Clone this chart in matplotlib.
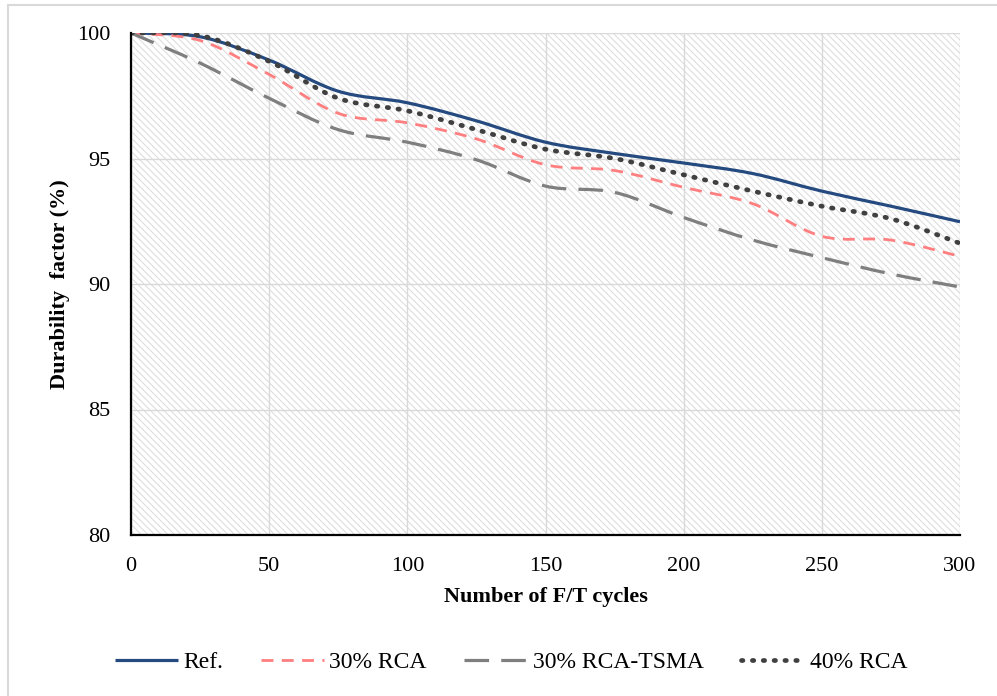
import matplotlib
matplotlib.use("Agg")
import matplotlib.pyplot as plt
from matplotlib.path import Path
from matplotlib.patches import PathPatch, Rectangle
from matplotlib.lines import Line2D
import numpy as np

cycles = [0, 25, 50, 75, 100, 125, 150, 175, 200, 225, 250, 275, 300]
ref = [100, 99.85, 98.92, 97.68, 97.22, 96.5, 95.65, 95.2, 94.82, 94.4, 93.7, 93.1, 92.48]
rca30 = [100, 99.7, 98.35, 96.8, 96.42, 95.78, 94.75, 94.52, 93.85, 93.2, 91.9, 91.75, 91.1]
tsma30 = [100, 98.8, 97.4, 96.15, 95.65, 94.95, 93.9, 93.65, 92.65, 91.75, 91.05, 90.4, 89.88]
rca40 = [100, 99.9, 98.87, 97.4, 96.9, 96.15, 95.37, 95.0, 94.35, 93.7, 93.1, 92.6, 91.62]
labels = ["Ref.", "30% RCA", "30% RCA-TSMA", "40% RCA"]

plt.rcParams['font.family'] = ['Liberation Serif', 'DejaVu Serif']
plt.rcParams['hatch.linewidth'] = 0.7

fig = plt.figure(figsize=(9.97, 6.96), dpi=100)
fig.patches.append(Rectangle((8/997, -0.1), 1.2, 1.1 - 5/696, transform=fig.transFigure,
                             fill=False, edgecolor='#d9d9d9', lw=1.5))
ax = fig.add_axes([131/997, 1-535/696, (960-131)/997, (535-33)/696])
ax.patch.set_facecolor('white')
ax.patch.set_hatch('\\\\\\\\\\')
ax.patch.set_edgecolor('#dadada')

def smooth_path(x, y):
    x = np.asarray(x, float); y = np.asarray(y, float)
    n = len(x)
    verts = [(x[0], y[0])]
    codes = [Path.MOVETO]
    for i in range(n-1):
        x0, y0 = (x[i-1], y[i-1]) if i > 0 else (x[i], y[i])
        x3, y3 = (x[i+2], y[i+2]) if i+2 < n else (x[i+1], y[i+1])
        c1 = (x[i] + (x[i+1]-x0)/6, y[i] + (y[i+1]-y0)/6)
        c2 = (x[i+1] - (x3-x[i])/6, y[i+1] - (y3-y[i])/6)
        verts += [c1, c2, (x[i+1], y[i+1])]
        codes += [Path.CURVE4]*3
    return Path(verts, codes)

styles = [
    dict(color='#254A80', lw=2.3, ls='-', cap='butt'),
    dict(color='#FF7F80', lw=2.0, ls=(0, (4.3, 3.0)), cap='butt'),
    dict(color='#7F7F7F', lw=2.3, ls=(0, (7.7, 3.8)), cap='butt'),
    dict(color='#404040', lw=3.4, ls=(0, (0.3, 2.0)), cap='round'),
]
series = [ref, rca30, tsma30, rca40]
handles = []
for k, (vals, st, lab) in enumerate(zip(series, styles, labels)):
    p = PathPatch(smooth_path(cycles, vals), fill=False, edgecolor=st['color'],
                  lw=st['lw'], linestyle=st['ls'], capstyle=st['cap'], zorder=3)
    ax.add_patch(p)
    h = Line2D([], [], color=st['color'], lw=st['lw'], linestyle=st['ls'],
               dash_capstyle=st['cap'], solid_capstyle='butt')
    handles.append(h)

ax.set_xlim(0, 300)
ax.set_ylim(80, 100)
ax.set_xticks(range(0, 301, 50))
ax.set_yticks(range(80, 101, 5))
ax.grid(True, color='#d9d9d9', lw=1.0)
ax.set_axisbelow(True)
for s in ['top', 'right']:
    ax.spines[s].set_visible(False)
for s in ['left', 'bottom']:
    ax.spines[s].set_color('black')
    ax.spines[s].set_linewidth(1.6)
    ax.spines[s].set_zorder(5)
ax.tick_params(axis='y', length=0, labelsize=16, pad=15)
ax.tick_params(axis='x', length=0, labelsize=16, pad=16)
ax.set_xlabel("Number of F/T cycles", fontsize=16, fontweight='bold', labelpad=8)
ax.set_ylabel("Durability  factor (%)", fontsize=16, fontweight='bold', labelpad=5)

fig.legend(handles, labels, loc='center', bbox_to_anchor=(511/997, 1-662/696), ncol=4,
           frameon=False, fontsize=17, handlelength=2.7, handletextpad=0.2, columnspacing=1.6)

fig.savefig("out.png", dpi=100)
